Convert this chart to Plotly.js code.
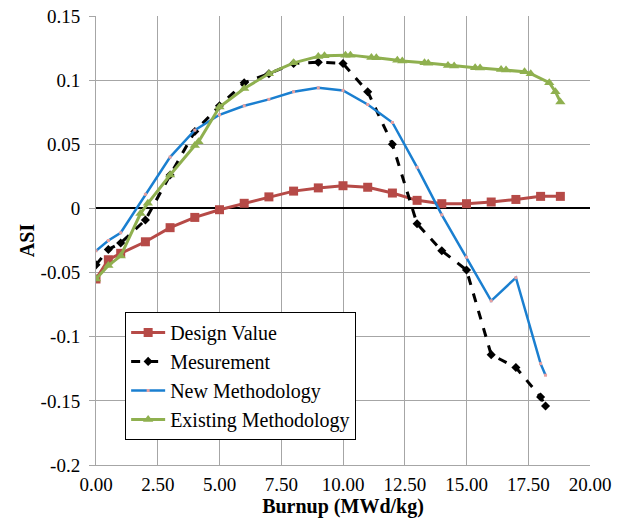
<!DOCTYPE html>
<html>
<head>
<meta charset="utf-8">
<script src="https://cdn.plot.ly/plotly-3.0.1.min.js"></script>
<style>html,body{margin:0;padding:0;background:#fff;}#chart{width:622px;height:524px;}</style>
</head>
<body>
<div id="chart"></div>
<script>
// Design Value
const designX = [0, 0.5, 1, 2, 3, 4, 5, 6, 7, 8, 9, 10, 11, 12, 13, 14, 15, 16, 17, 18, 18.8];
const designY = [-0.055, -0.040, -0.035, -0.026, -0.015, -0.007, -0.001, 0.004, 0.009, 0.0135, 0.016, 0.0177, 0.0165, 0.012, 0.0063, 0.0037, 0.0037, 0.005, 0.007, 0.0094, 0.0094];
// Mesurement
const measX = [0, 0.5, 1, 2, 3, 4, 5, 6, 7, 8, 9, 10, 11, 12, 13, 14, 15, 16, 17, 18, 18.2];
const measY = [-0.044, -0.032, -0.027, -0.009, 0.026, 0.060, 0.080, 0.098, 0.105, 0.113, 0.114, 0.113, 0.091, 0.050, -0.012, -0.033, -0.048, -0.114, -0.124, -0.147, -0.154];
// New Methodology
const newX = [0, 0.5, 1, 2, 3, 4, 5, 6, 7, 8, 9, 10, 11, 12, 13, 14, 15, 16, 17, 18, 18.2];
const newY = [-0.033, -0.025, -0.019, 0.011, 0.040, 0.061, 0.073, 0.080, 0.085, 0.091, 0.094, 0.092, 0.081, 0.067, 0.032, -0.005, -0.038, -0.072, -0.054, -0.121, -0.130];
// Existing Methodology
const existX = [0, 0.5, 1.0, 1.8, 2.1, 3.0, 4.0, 4.15, 5.0, 6.0, 7.0, 8.0, 9.0, 9.25, 10.1, 10.3, 11.15, 11.35, 12.2, 12.4, 13.3, 13.45, 14.25, 14.5, 15.35, 15.55, 16.4, 16.6, 17.35, 17.6, 18.35, 18.6, 18.8];
const existY = [-0.055, -0.0445, -0.037, -0.004, 0.004, 0.026, 0.049, 0.052, 0.079, 0.0935, 0.105, 0.1135, 0.1185, 0.119, 0.1195, 0.1195, 0.1177, 0.1175, 0.1155, 0.115, 0.1135, 0.1132, 0.1115, 0.111, 0.1097, 0.1095, 0.1083, 0.108, 0.1065, 0.105, 0.098, 0.091, 0.083];

const xTicks = [0, 2.5, 5, 7.5, 10, 12.5, 15, 17.5, 20];
const yTicks = [-0.2, -0.15, -0.1, -0.05, 0, 0.05, 0.1, 0.15];
const yTickText = ["-0.2", "-0.15", "-0.1", "-0.05", "0", "0.05", "0.1", "0.15"];

const serif = "Liberation Serif";

const traces = [
  {x: designX, y: designY, name: "Design Value", type: "scatter", mode: "lines+markers",
   line: {color: "#b64a47", width: 3}, marker: {symbol: "square", size: 9, color: "#b64a47"}},
  {x: measX, y: measY, name: "Mesurement", type: "scatter", mode: "lines+markers",
   line: {color: "#000000", width: 3, dash: "dash"}, marker: {symbol: "diamond", size: 7, color: "#000000"}},
  {x: newX, y: newY, name: "New Methodology", type: "scatter", mode: "lines+markers",
   line: {color: "#1a7fd0", width: 2.5}, marker: {symbol: "square", size: 3, color: "#e8a0a0"}},
  {x: existX, y: existY, name: "Existing Methodology", type: "scatter", mode: "lines+markers",
   line: {color: "#8fb04f", width: 3}, marker: {symbol: "triangle-up", size: 9, color: "#8fb04f"}}
];

const layout = {
  width: 622, height: 524,
  margin: {l: 96, r: 32, t: 16, b: 59},
  paper_bgcolor: "#ffffff", plot_bgcolor: "#ffffff",
  font: {family: serif, size: 19, color: "#000000"},
  showlegend: true,
  legend: {x: 0.059, y: 0.341, xanchor: "left", yanchor: "top",
    bgcolor: "#ffffff", bordercolor: "#000000", borderwidth: 1,
    font: {family: serif, size: 20, color: "#000000"}, itemwidth: 34, traceorder: "normal"},
  xaxis: {
    range: [0, 20], tickvals: xTicks, tickformat: ".2f",
    showgrid: true, gridcolor: "#a6a6a6", gridwidth: 1,
    zeroline: false, showline: true, linecolor: "#a6a6a6", linewidth: 1,
    ticks: "", ticklabelstandoff: 2, tickfont: {family: serif, size: 19, color: "#000"},
    title: {text: "<b>Burnup (MWd/kg)</b>", font: {family: serif, size: 20, color: "#000"}, standoff: 4}
  },
  yaxis: {
    range: [-0.2, 0.15], tickvals: yTicks, ticktext: yTickText,
    showgrid: true, gridcolor: "#a6a6a6", gridwidth: 1,
    zeroline: true, zerolinecolor: "#000000", zerolinewidth: 2,
    showline: true, linecolor: "#a6a6a6", linewidth: 1,
    ticks: "outside", ticklen: 6, tickcolor: "#a6a6a6", ticklabelstandoff: 5,
    tickfont: {family: serif, size: 19, color: "#000"},
    title: {text: "<b>ASI</b>", font: {family: serif, size: 20, color: "#000"}, standoff: 0}
  }
};

Plotly.newPlot("chart", traces, layout, {displayModeBar: false, staticPlot: true});
</script>
</body>
</html>
